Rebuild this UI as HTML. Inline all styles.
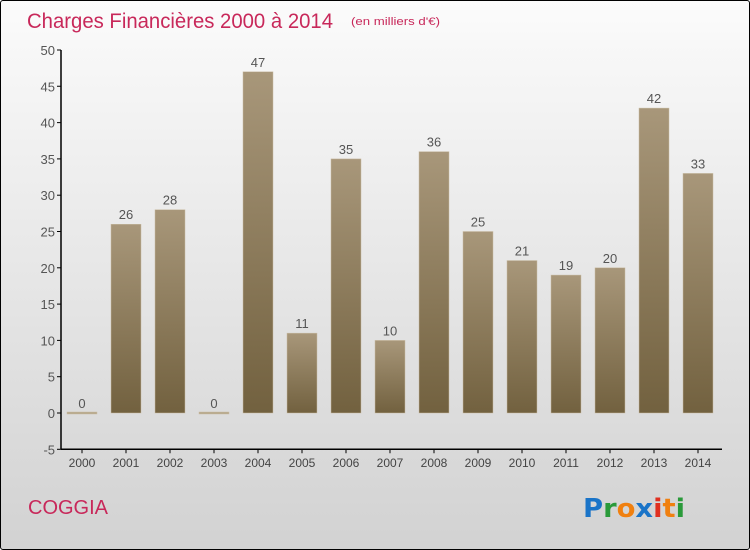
<!DOCTYPE html>
<html><head><meta charset="utf-8"><style>
body{margin:0;}
#c{width:750px;height:550px;position:relative;box-sizing:border-box;border:1px solid #000;border-radius:3px;background:linear-gradient(#fbfbfb,#d2d2d2);font-family:"Liberation Sans",sans-serif;overflow:hidden}
</style></head><body>
<div id="c">
<svg width="750" height="550" style="position:absolute;left:-1px;top:-1px" id="svg">
<defs><linearGradient id="bg" x1="0" y1="0" x2="0" y2="1"><stop offset="0" stop-color="#a8977a"/><stop offset="1" stop-color="#72613f"/></linearGradient></defs>
<text x="27" y="28" font-size="21" fill="#c8285a" textLength="306" lengthAdjust="spacingAndGlyphs">Charges Financières 2000 à 2014</text>
<text x="351" y="25" font-size="11" fill="#c8285a" textLength="89" lengthAdjust="spacingAndGlyphs">(en milliers d'€)</text>
<text x="28" y="514" font-size="20" fill="#c8285a">COGGIA</text>
<text x="583" y="517" font-size="26" font-weight="bold" font-family="'DejaVu Sans',sans-serif" textLength="102" lengthAdjust="spacingAndGlyphs"><tspan fill="#1a74c8">P</tspan><tspan fill="#2a9a3a">r</tspan><tspan fill="#f08010">o</tspan><tspan fill="#1a74c8">x</tspan><tspan fill="#e03020">i</tspan><tspan fill="#f08010">t</tspan><tspan fill="#2a9a3a">i</tspan></text>
<g id="plot"></g>
</svg></div>
<script>
const categories=["2000","2001","2002","2003","2004","2005","2006","2007","2008","2009","2010","2011","2012","2013","2014"];
const values=[0,26,28,0,47,11,35,10,36,25,21,19,20,42,33];
const yTicks=[-5,0,5,10,15,20,25,30,35,40,45,50];
const NS="http://www.w3.org/2000/svg";
const g=document.getElementById('plot');
const y=v=>413-(v*7.26);
const x=i=>82+i*44;
function mk(t,a,p){const e=document.createElementNS(NS,t);for(const k in a)e.setAttribute(k,a[k]);(p||g).appendChild(e);return e;}
let ax=mk('line',{x1:61,y1:y(50),x2:61,y2:y(-5),stroke:'#000','stroke-width':1.5});


let xa=mk('line',{x1:61,y1:y(-5),x2:722,y2:y(-5),stroke:'#000','stroke-width':1.5});


yTicks.forEach(v=>{
 mk('line',{x1:57,y1:y(v),x2:61,y2:y(v),stroke:'#000'});
 const t=mk('text',{x:55,y:y(v)+5,'font-size':13,fill:'#555','text-anchor':'end'});t.textContent=v;
 
 
});
categories.forEach((c,i)=>{
 mk('line',{x1:x(i),y1:y(-5),x2:x(i),y2:y(-5)+4,stroke:'#000'});
 const t=mk('text',{x:x(i),y:467,'font-size':12,fill:'#444','text-anchor':'middle'});t.textContent=c;
 
 
 const v=values[i];
 const h=Math.max(y(0)-y(v),2);
 const b=mk('rect',{x:x(i)-15,y:y(0)-h+(v===0?1:0),width:30,height:h,fill:v===0?'#b5a68a':'url(#bg)',stroke:'#c9bca4','stroke-width':0.5});
 
 
 const l=mk('text',{x:x(i),y:y(v)-5,'font-size':13,fill:'#555','text-anchor':'middle'});l.textContent=v;
 
 
});
</script>
</body></html>
